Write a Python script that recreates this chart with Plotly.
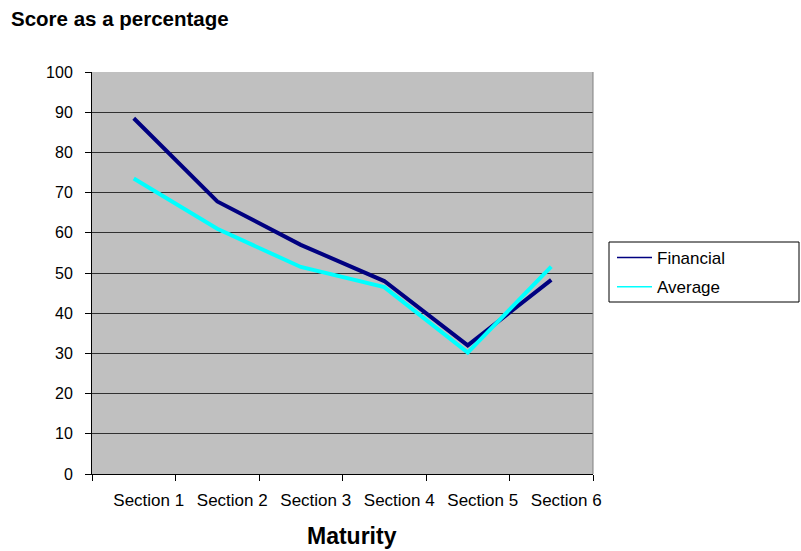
import plotly.graph_objects as go

sections = ["Section 1", "Section 2", "Section 3", "Section 4", "Section 5", "Section 6"]
financial = [88.5, 67.8, 57.0, 48.0, 32.0, 48.3]
average = [73.5, 61.0, 51.5, 46.5, 30.2, 51.6]
y_ticks = [0, 10, 20, 30, 40, 50, 60, 70, 80, 90, 100]

FONT = "Liberation Sans, Arial, sans-serif"

# plot area in pixels
L, R, T, B = 92, 593, 72, 474
W, H = 801, 551
pw, ph = R - L, B - T


def px_x(x):
    return (x - L) / pw


def px_y(y):
    return (B - y) / ph


series = [("Financial", financial, "#000080"), ("Average", average, "#00FFFF")]

fig = go.Figure()
for name, values, color in series:
    # thick data line
    fig.add_trace(go.Scatter(x=sections, y=values, mode="lines", name=name,
                             legendgroup=name, showlegend=False,
                             line=dict(color=color, width=4)))
    # thin legend key
    fig.add_trace(go.Scatter(x=[None], y=[None], mode="lines", name=name,
                             legendgroup=name, showlegend=True,
                             line=dict(color=color, width=1.5)))

fig.update_layout(
    width=W, height=H,
    margin=dict(l=L, r=W - R, t=T, b=H - B, pad=0),
    paper_bgcolor="white",
    plot_bgcolor="#C0C0C0",
    font=dict(family=FONT, size=16, color="black"),
    showlegend=True,
    legend=dict(x=px_x(612), y=px_y(240), xanchor="left", yanchor="top",
                bgcolor="rgba(0,0,0,0)", borderwidth=0,
                font=dict(family=FONT, size=17, color="black"),
                tracegroupgap=4, itemwidth=35),
)

fig.update_xaxes(
    type="category", range=[-0.5, 5.5],
    tickson="boundaries", ticks="outside", ticklen=6, tickcolor="black",
    showline=True, linecolor="black", linewidth=1,
    showgrid=False, zeroline=False,
    tickfont=dict(family=FONT, size=17, color="black"),
    ticklabelstandoff=11, ticklabelshift=15,
)

fig.update_yaxes(
    range=[0, 100], tickvals=y_ticks, ticktext=[str(v) for v in y_ticks],
    ticks="outside", ticklen=6, tickcolor="black",
    showline=True, linecolor="black", linewidth=1,
    showgrid=True, gridcolor="#303030", gridwidth=1, zeroline=False,
    tickfont=dict(family=FONT, size=16, color="black"),
    ticklabelstandoff=9,
)

# right border of the plot area
fig.add_shape(type="line", xref="paper", yref="paper", x0=1, x1=1, y0=0, y1=1,
              line=dict(color="#808080", width=1))

# legend frame
fig.add_shape(type="rect", xref="paper", yref="paper",
              x0=px_x(609), x1=px_x(799), y0=px_y(302), y1=px_y(242),
              line=dict(color="black", width=1), fillcolor="rgba(0,0,0,0)")

fig.add_annotation(text="<b>Score as a percentage</b>", xref="paper", yref="paper",
                   x=px_x(9), y=px_y(18), xanchor="left", yanchor="middle",
                   showarrow=False, font=dict(family=FONT, size=20.5, color="black"))

fig.add_annotation(text="<b>Maturity</b>", xref="paper", yref="paper",
                   x=px_x(352), y=px_y(536), xanchor="center", yanchor="middle",
                   showarrow=False, font=dict(family=FONT, size=23, color="black"))

fig.write_html("out.html")
